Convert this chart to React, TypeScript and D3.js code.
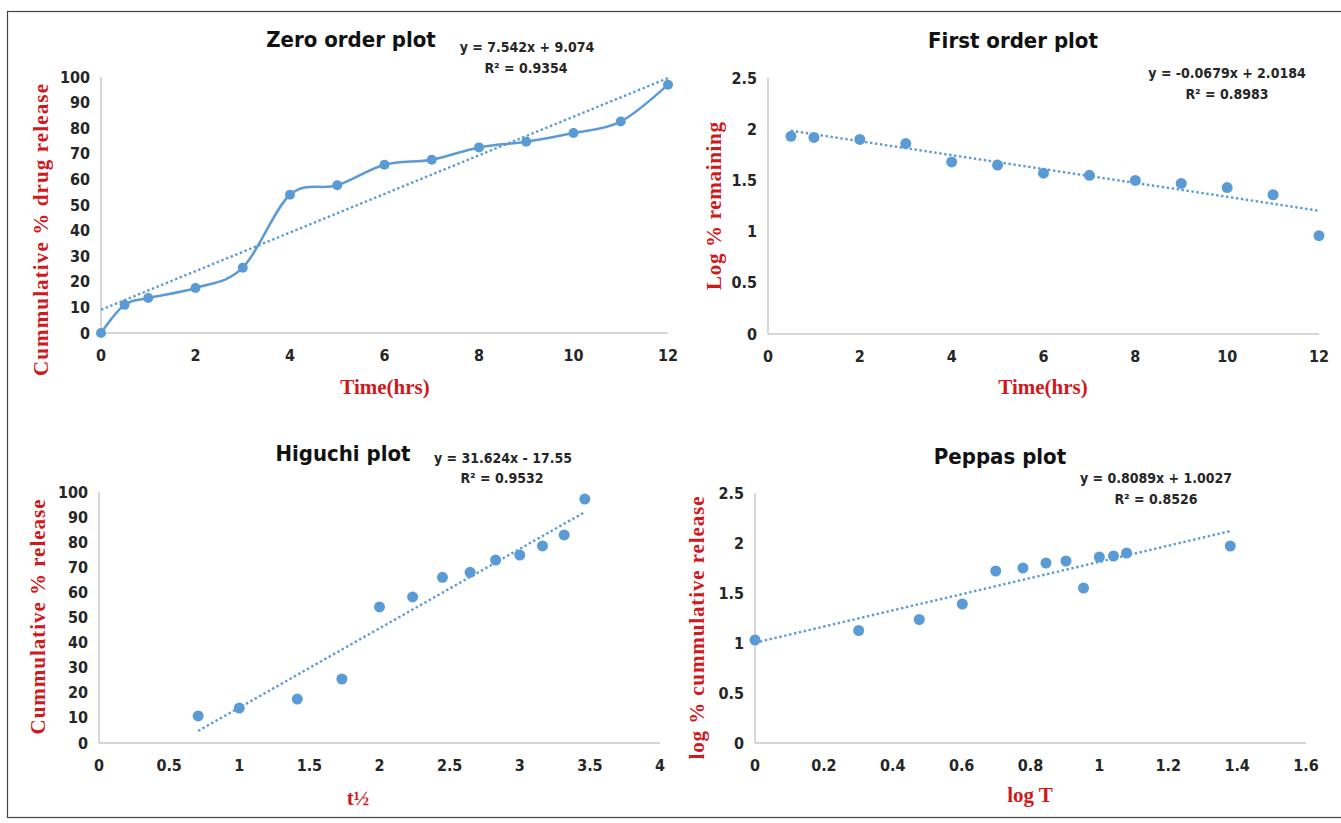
import React from "react";
import * as d3 from "d3";

// ---- data ----
const zeroTime = [0, 0.5, 1, 2, 3, 4, 5, 6, 7, 8, 9, 10, 11, 12];
const zeroRelease = [0, 11, 13.7, 17.6, 25.5, 54, 57.7, 65.7, 67.7, 72.5, 74.7, 78.1, 82.6, 97];
const zeroTicksX = [0, 2, 4, 6, 8, 10, 12];
const zeroTicksY = [0, 10, 20, 30, 40, 50, 60, 70, 80, 90, 100];
const zeroFit = { slope: 7.542, intercept: 9.074, from: 0, to: 12 };

const firstTime = [0.5, 1, 2, 3, 4, 5, 6, 7, 8, 9, 10, 11, 12];
const firstLogRemaining = [1.93, 1.92, 1.9, 1.86, 1.68, 1.65, 1.57, 1.55, 1.5, 1.47, 1.43, 1.36, 0.96];
const firstTicksX = [0, 2, 4, 6, 8, 10, 12];
const firstTicksY = [0, 0.5, 1, 1.5, 2, 2.5];
const firstFit = { slope: -0.0679, intercept: 2.0184, from: 0.5, to: 12 };

const higuchiSqrtT = [0.707, 1, 1.414, 1.732, 2, 2.236, 2.449, 2.646, 2.828, 3, 3.162, 3.317, 3.464];
const higuchiRelease = [10.8, 13.9, 17.5, 25.5, 54.2, 58.2, 66, 68, 72.9, 74.9, 78.5, 82.9, 97.2];
const higuchiTicksX = [0, 0.5, 1, 1.5, 2, 2.5, 3, 3.5, 4];
const higuchiTicksY = [0, 10, 20, 30, 40, 50, 60, 70, 80, 90, 100];
const higuchiFit = { slope: 31.624, intercept: -17.55, from: 0.707, to: 3.464 };

const peppasLogT = [0, 0.301, 0.477, 0.602, 0.699, 0.778, 0.845, 0.903, 0.954, 1, 1.041, 1.079, 1.38];
const peppasLogRelease = [1.03, 1.125, 1.235, 1.39, 1.72, 1.75, 1.8, 1.82, 1.55, 1.86, 1.87, 1.9, 1.97];
const peppasTicksX = [0, 0.2, 0.4, 0.6, 0.8, 1, 1.2, 1.4, 1.6];
const peppasTicksY = [0, 0.5, 1, 1.5, 2, 2.5];
const peppasFit = { slope: 0.8089, intercept: 1.0027, from: 0, to: 1.38 };

const BLUE = "#5b9bd5";
const RED = "#d0191c";
const TICKFONT = "'Liberation Sans Narrow', 'DejaVu Sans Condensed', 'Liberation Sans', sans-serif";
const SERIF = "'Liberation Serif', 'DejaVu Serif', serif";

type PanelProps = {
  xs: number[];
  ys: number[];
  ticksX: number[];
  ticksY: number[];
  fit: { slope: number; intercept: number; from: number; to: number };
  x0: number; x1: number; y0: number; y1: number;
  title: string; titleX: number; titleY: number;
  eq: string; eqX: number; eqY: number;
  r2: string; r2X: number; r2Y: number;
  yLabel: string; yLabelX: number; yLabelY: number; yLabelLen: number;
  xLabel: React.ReactNode; xLabelX: number; xLabelY: number;
  smoothLine?: boolean;
  r?: number;
};

function Panel(p: PanelProps) {
  const xDom: [number, number] = [p.ticksX[0], p.ticksX[p.ticksX.length - 1]];
  const yDom: [number, number] = [p.ticksY[0], p.ticksY[p.ticksY.length - 1]];
  const x = d3.scaleLinear().domain(xDom).range([p.x0, p.x1]);
  const y = d3.scaleLinear().domain(yDom).range([p.y0, p.y1]);
  const pts: [number, number][] = p.xs.map((v, i) => [x(v), y(p.ys[i])]);
  const line = d3.line().curve(d3.curveCatmullRom.alpha(0))(pts) || "";
  const fitLine = d3.line()([
    [x(p.fit.from), y(p.fit.slope * p.fit.from + p.fit.intercept)],
    [x(p.fit.to), y(p.fit.slope * p.fit.to + p.fit.intercept)],
  ]) || "";
  const fmt = (v: number) => String(v);
  return (
    <g>
      <line x1={p.x0} x2={p.x0} y1={p.y0} y2={p.y1} stroke="#c8c8c8" strokeWidth={1.5} />
      <line x1={p.x0} x2={p.x1} y1={p.y0} y2={p.y0} stroke="#c8c8c8" strokeWidth={1.5} />
      {p.ticksY.map((t) => (
        <text key={"y" + t} x={p.x0 - 11} y={y(t) + 5.5} textAnchor="end" fontFamily={TICKFONT}
          fontWeight="bold" fontSize={16} fill="#262626">{fmt(t)}</text>
      ))}
      {p.ticksX.map((t) => (
        <text key={"x" + t} x={x(t)} y={p.y0 + 28} textAnchor="middle" fontFamily={TICKFONT}
          fontWeight="bold" fontSize={16} fill="#262626">{fmt(t)}</text>
      ))}
      <path d={fitLine} fill="none" stroke={BLUE} strokeWidth={2.4} strokeDasharray="2.4 2.6" />
      {p.smoothLine && <path d={line} fill="none" stroke={BLUE} strokeWidth={2.5} />}
      {pts.map((d, i) => (
        <circle key={i} cx={d[0]} cy={d[1]} r={p.r ?? 5.5} fill={BLUE} />
      ))}
      <text x={p.titleX} y={p.titleY + 8} textAnchor="middle" fontFamily={TICKFONT} fontWeight="bold"
        fontSize={22} fill="#111">{p.title}</text>
      <text x={p.eqX} y={p.eqY + 5} textAnchor="middle" fontFamily={TICKFONT} fontWeight="bold"
        fontSize={14} fill="#262626">{p.eq}</text>
      <text x={p.r2X} y={p.r2Y + 5} textAnchor="middle" fontFamily={TICKFONT} fontWeight="bold"
        fontSize={14} fill="#262626">{p.r2}</text>
      <text transform={`translate(${p.yLabelX},${p.yLabelY}) rotate(-90)`} x={0} y={7} textAnchor="middle"
        fontFamily={SERIF} fontWeight="bold" fontSize={21} fill={RED}
        textLength={p.yLabelLen} lengthAdjust="spacing">{p.yLabel}</text>
      <text x={p.xLabelX} y={p.xLabelY + 7} textAnchor="middle" fontFamily={SERIF} fontWeight="bold"
        fontSize={21} fill={RED}>{p.xLabel}</text>
    </g>
  );
}

export default function App() {
  return (
    <svg width={1341} height={823} style={{ position: "absolute", left: 0, top: 0, background: "#fff" }}>
      <rect x={0} y={0} width={1341} height={823} fill="#fff" />
      <rect x={7.5} y={11.5} width={1345} height={806} fill="none" stroke="#444" strokeWidth={1.2} />
      <Panel xs={zeroTime} ys={zeroRelease} ticksX={zeroTicksX} ticksY={zeroTicksY} fit={zeroFit}
        x0={101} x1={668} y0={333} y1={77}
        title="Zero order plot" titleX={351} titleY={39}
        eq="y = 7.542x + 9.074" eqX={527} eqY={47}
        r2="R² = 0.9354" r2X={526} r2Y={68}
        yLabel="Cummulative  % drug release" yLabelX={41} yLabelY={230} yLabelLen={292}
        xLabel="Time(hrs)" xLabelX={385} xLabelY={387} smoothLine r={5} />
      <Panel xs={firstTime} ys={firstLogRemaining} ticksX={firstTicksX} ticksY={firstTicksY} fit={firstFit}
        x0={768} x1={1319} y0={334} y1={78}
        title="First order plot" titleX={1013} titleY={40}
        eq="y = -0.0679x + 2.0184" eqX={1227} eqY={73}
        r2="R² = 0.8983" r2X={1227} r2Y={94}
        yLabel="Log % remaining" yLabelX={714} yLabelY={206} yLabelLen={168}
        xLabel="Time(hrs)" xLabelX={1043} xLabelY={387} />
      <Panel xs={higuchiSqrtT} ys={higuchiRelease} ticksX={higuchiTicksX} ticksY={higuchiTicksY} fit={higuchiFit}
        x0={99} x1={660} y0={743} y1={492}
        title="Higuchi plot" titleX={343} titleY={453}
        eq="y = 31.624x - 17.55" eqX={503} eqY={458}
        r2="R² = 0.9532" r2X={502} r2Y={478}
        yLabel="Cummulative  % release" yLabelX={38} yLabelY={617} yLabelLen={235}
        xLabel={<tspan>t½</tspan>} xLabelX={358} xLabelY={798} />
      <Panel xs={peppasLogT} ys={peppasLogRelease} ticksX={peppasTicksX} ticksY={peppasTicksY} fit={peppasFit}
        x0={755} x1={1306} y0={743} y1={493}
        title="Peppas plot" titleX={1000} titleY={456}
        eq="y = 0.8089x + 1.0027" eqX={1156} eqY={478}
        r2="R² = 0.8526" r2X={1156} r2Y={499}
        yLabel="log % cummulative  release" yLabelX={697} yLabelY={628} yLabelLen={263}
        xLabel="log T" xLabelX={1030} xLabelY={795} />
    </svg>
  );
}
